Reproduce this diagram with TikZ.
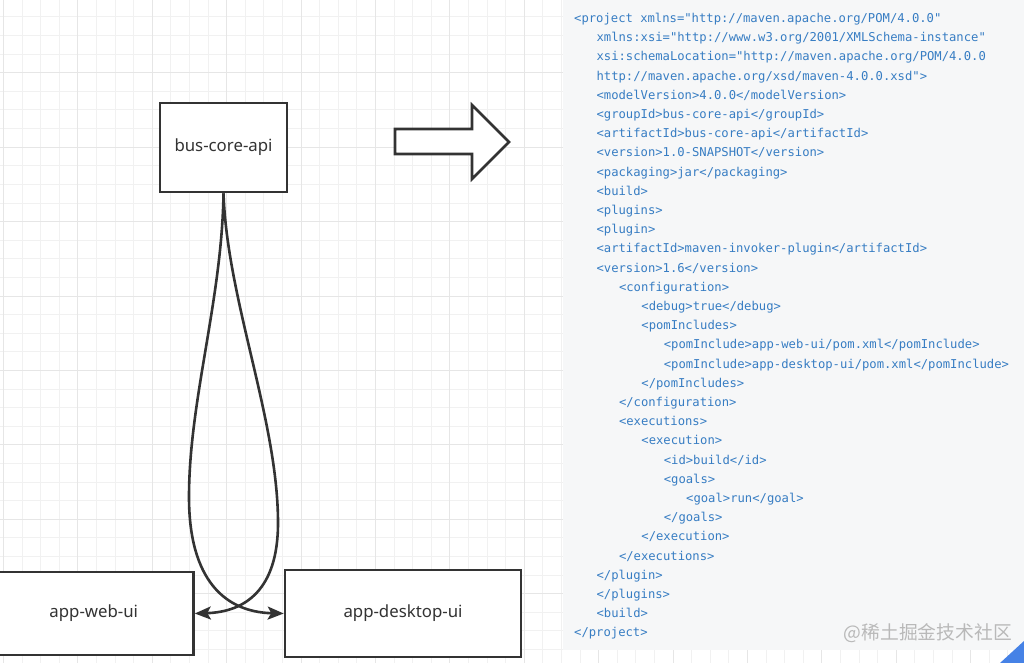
\documentclass[tikz,border=0pt]{standalone}
\usepackage{fontspec}
\setmainfont{Noto Sans}
\newfontfamily\codefont{DejaVu Sans Mono}
\newfontfamily\cjkfont{Noto Sans CJK SC}
\usetikzlibrary{arrows.meta}
\definecolor{ink}{HTML}{333333}
\definecolor{codeblue}{RGB}{55,125,195}
\definecolor{panel}{HTML}{F6F7F8}
\definecolor{gridminor}{HTML}{F1F1F1}
\definecolor{gridmajor}{HTML}{E6E6E6}
\definecolor{cornerblue}{RGB}{70,130,230}
\newcommand\codeln[4]{\node[code] (#1) at ({574+22.4*#2},{22.5+19.2*(#3-1)}) {#4};}
\begin{document}
\begin{tikzpicture}[x=1pt,y=-1pt,
  box/.style={draw=ink, line width=2.6pt, fill=white, inner sep=0pt, font=\fontsize{16.8}{19}\selectfont, text=ink},
  code/.style={anchor=base west, inner sep=0pt, text=codeblue, font=\codefont\fontsize{12.2}{14}\selectfont},
  link/.style={draw=ink, line width=2.6pt, -{Stealth[length=16pt,width=13pt,inset=3.5pt]}}]
\useasboundingbox (0,0) rectangle (1024,663);
\fill[white] (0,0) rectangle (1024,663);
% grid
\foreach \i in {-4,...,50} \draw[gridminor, line width=0.8pt] ({77.7+18.6*\i},0) -- ++(0,663);
\foreach \j in {-3,...,31} \draw[gridminor, line width=0.8pt] (0,{72.7+18.6*\j}) -- ++(1024,0);
\foreach \i in {-4,0,...,48} \draw[gridmajor, line width=0.8pt] ({77.7+18.6*\i},0) -- ++(0,663);
\foreach \j in {0,4,...,28} \draw[gridmajor, line width=0.8pt] (0,{72.7+18.6*\j}) -- ++(1024,0);
% code panel
\fill[panel] (563,0) rectangle (1024,650);
% boxes
\node[box, minimum width=127pt, minimum height=89pt] (core) at (223.5,147.5) {bus-core-api};
\node[box, minimum width=199.5pt, minimum height=83pt] (web) at (93.75,613.5) {app-web-ui};
\node[box, minimum width=236pt, minimum height=87pt] (desk) at (403,613.5) {app-desktop-ui};
% block arrow
\draw[ink, line width=2.6pt, fill=white, line join=miter] (395,129) -- (472,129) -- (472,105) -- (509,142) -- (472,179) -- (472,154) -- (395,154) -- cycle;
% connectors
\draw[link] (core.south) .. controls (222,300) and (189,400) .. (189,497) .. controls (189,580) and (225,612) .. (desk.west);
\draw[link] (core.south) .. controls (227,300) and (278,420) .. (278,523) .. controls (278,590) and (245,612) .. (web.east);
% code
\codeln{l1}{0}{1}{<project xmlns="http://maven.apache.org/POM/4.0.0"}
\codeln{l2}{1}{2}{xmlns:xsi="http://www.w3.org/2001/XMLSchema-instance"}
\codeln{l3}{1}{3}{xsi:schemaLocation="http://maven.apache.org/POM/4.0.0}
\codeln{l4}{1}{4}{http://maven.apache.org/xsd/maven-4.0.0.xsd">}
\codeln{l5}{1}{5}{<modelVersion>4.0.0</modelVersion>}
\codeln{l6}{1}{6}{<groupId>bus-core-api</groupId>}
\codeln{l7}{1}{7}{<artifactId>bus-core-api</artifactId>}
\codeln{l8}{1}{8}{<version>1.0-SNAPSHOT</version>}
\codeln{l9}{1}{9}{<packaging>jar</packaging>}
\codeln{l10}{1}{10}{<build>}
\codeln{l11}{1}{11}{<plugins>}
\codeln{l12}{1}{12}{<plugin>}
\codeln{l13}{1}{13}{<artifactId>maven-invoker-plugin</artifactId>}
\codeln{l14}{1}{14}{<version>1.6</version>}
\codeln{l15}{2}{15}{<configuration>}
\codeln{l16}{3}{16}{<debug>true</debug>}
\codeln{l17}{3}{17}{<pomIncludes>}
\codeln{l18}{4}{18}{<pomInclude>app-web-ui/pom.xml</pomInclude>}
\codeln{l19}{4}{19}{<pomInclude>app-desktop-ui/pom.xml</pomInclude>}
\codeln{l20}{3}{20}{</pomIncludes>}
\codeln{l21}{2}{21}{</configuration>}
\codeln{l22}{2}{22}{<executions>}
\codeln{l23}{3}{23}{<execution>}
\codeln{l24}{4}{24}{<id>build</id>}
\codeln{l25}{4}{25}{<goals>}
\codeln{l26}{5}{26}{<goal>run</goal>}
\codeln{l27}{4}{27}{</goals>}
\codeln{l28}{3}{28}{</execution>}
\codeln{l29}{2}{29}{</executions>}
\codeln{l30}{1}{30}{</plugin>}
\codeln{l31}{1}{31}{</plugins>}
\codeln{l32}{1}{32}{<build>}
\codeln{l33}{0}{33}{</project>}
% watermark
\node[font=\cjkfont\fontsize{18.8}{21}\selectfont, text=gray!55, anchor=east, inner sep=0pt] (wm) at (1012,633) {@稀土掘金技术社区};
\fill[cornerblue] (1000,663) -- (1024,641) -- (1024,663) -- cycle;
\end{tikzpicture}
\end{document}
